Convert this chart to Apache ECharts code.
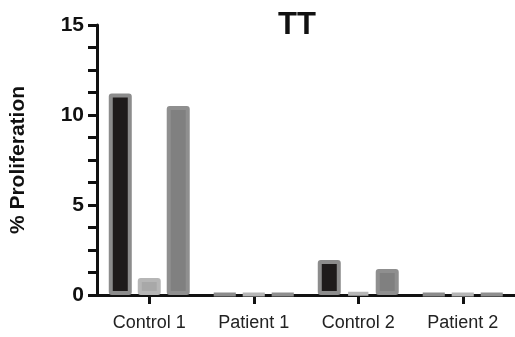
<!DOCTYPE html>
<html><head><meta charset="utf-8">
<script src="https://cdn.jsdelivr.net/npm/echarts@6/dist/echarts.min.js"></script>
<style>html,body{margin:0;padding:0;background:#fff}#c{width:515px;height:337px}</style>
</head><body><div id="c"></div>
<script>
var categories = ['Control 1', 'Patient 1', 'Control 2', 'Patient 2'];
var series1 = [11.2, 0.05, 1.95, 0.05];
var series2 = [0.95, 0.05, 0.15, 0.05];
var series3 = [10.5, 0.05, 1.45, 0.05];
var yTicks = [0, 5, 10, 15];

var fills = ['#1e1b1b', '#a8a8a8', '#808080'];
var borders = ['#8c8c8c', '#b6b6b6', '#8f8f8f'];
var data = [series1, series2, series3];
var font = 'Liberation Sans, Arial, sans-serif';

var chart = echarts.init(document.getElementById('c'));
chart.setOption({
  animation: false,
  title: { text: 'TT', left: 292, textAlign: 'center', top: 5,
    textStyle: { fontFamily: font, fontSize: 31, fontWeight: 'bold', color: '#111' } },
  grid: { left: 96, right: 0, top: 25, bottom: 42, containLabel: false },
  xAxis: {
    type: 'category', data: categories,
    axisLine: { lineStyle: { color: '#111', width: 3 } },
    axisTick: { show: true, alignWithLabel: true, length: 9, lineStyle: { color: '#111', width: 3 } },
    axisLabel: { fontFamily: font, fontSize: 18, color: '#222', margin: 19 },
    splitLine: { show: false }
  },
  yAxis: {
    type: 'value', min: yTicks[0], max: yTicks[yTicks.length - 1], interval: 5,
    name: '% Proliferation', nameLocation: 'middle', nameGap: 68, nameRotate: 90,
    nameTextStyle: { fontFamily: font, fontSize: 21, fontWeight: 'bold', color: '#111' },
    axisLine: { show: true, lineStyle: { color: '#111', width: 3 } },
    axisTick: { show: true, length: 9, lineStyle: { color: '#111', width: 3 } },
    minorTick: { show: true, splitNumber: 4, length: 9, lineStyle: { color: '#111', width: 3 } },
    axisLabel: { fontFamily: font, fontSize: 21, fontWeight: 'bold', color: '#111', margin: 13 },
    splitLine: { show: false }
  },
  series: data.map(function (d, i) {
    return {
      type: 'bar', data: d, barWidth: 23, barGap: '26%',
      itemStyle: { color: fills[i], borderColor: borders[i], borderWidth: 4, borderRadius: 1 }
    };
  })
});
</script></body></html>
